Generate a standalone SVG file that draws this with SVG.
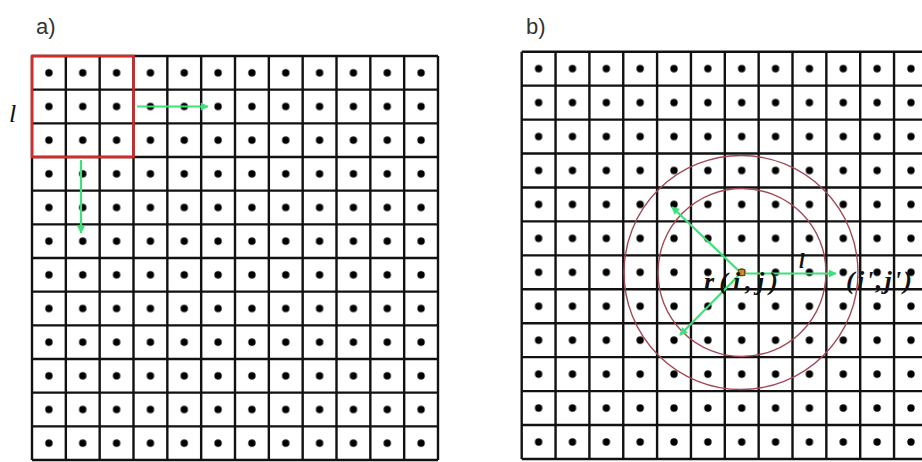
<svg xmlns="http://www.w3.org/2000/svg" width="922" height="462" viewBox="0 0 922 462">
<style>
.grid{fill:none;stroke:#111;stroke-width:2.4}
.lbl{font-family:"Liberation Sans",Arial,sans-serif;font-size:22px;fill:#333}
.math{font-family:"Liberation Serif","Times New Roman",serif;font-style:italic;font-weight:bold;fill:#111}
.arrow{fill:none;stroke:#3ee07a;stroke-width:2.2}
.ring{fill:none;stroke:#a04a55;stroke-width:1.4}
</style>
<defs>
<pattern id="dotsA" patternUnits="userSpaceOnUse" x="32" y="56" width="33.833" height="33.667">
<circle cx="16.92" cy="16.83" r="3.7" fill="#000"/>
</pattern>
<pattern id="dotsB" patternUnits="userSpaceOnUse" x="521.7" y="51.7" width="33.85" height="33.94">
<circle cx="16.92" cy="16.97" r="3.7" fill="#000"/>
</pattern>
<marker id="ah" viewBox="0 0 10 10" refX="9" refY="5" markerUnits="userSpaceOnUse" markerWidth="9" markerHeight="8" orient="auto">
<path d="M0,0 L10,5 L0,10 z" fill="#3ee07a"/>
</marker>
</defs>
<rect width="922" height="462" fill="#fff"/>

<g id="panel-a">
<text class="lbl" x="36" y="34">a)</text>
<rect x="32" y="56" width="406" height="404" fill="url(#dotsA)"/>
<path class="grid" d="M32,56V460M65.83,56V460M99.67,56V460M133.5,56V460M167.33,56V460M201.17,56V460M235,56V460M268.83,56V460M302.67,56V460M336.5,56V460M370.33,56V460M404.17,56V460M438,56V460
M32,56H438M32,89.67H438M32,123.33H438M32,157H438M32,190.67H438M32,224.33H438M32,258H438M32,291.67H438M32,325.33H438M32,359H438M32,392.67H438M32,426.33H438M32,460H438"/>
<rect id="window" x="32" y="56" width="101.5" height="101" fill="none" stroke="#d42a2a" stroke-width="2.6"/>
<text class="math" x="9" y="122" font-size="26" style="font-weight:normal">l</text>
</g>

<g id="panel-b">
<text class="lbl" x="526" y="34">b)</text>
<rect x="521.7" y="51.7" width="406.2" height="407.3" fill="url(#dotsB)"/>
<path class="grid" d="M521.7,51.7V459M555.55,51.7V459M589.4,51.7V459M623.25,51.7V459M657.1,51.7V459M690.95,51.7V459M724.8,51.7V459M758.65,51.7V459M792.5,51.7V459M826.35,51.7V459M860.2,51.7V459M894.05,51.7V459
M521.7,51.7H922M521.7,85.64H922M521.7,119.58H922M521.7,153.52H922M521.7,187.46H922M521.7,221.4H922M521.7,255.34H922M521.7,289.28H922M521.7,323.22H922M521.7,357.16H922M521.7,391.1H922M521.7,425.04H922M521.7,459H922"/>
<circle class="ring" cx="741" cy="272.5" r="117"/>
<circle class="ring" cx="742" cy="272.5" r="84"/>
</g>

<g id="connectors">
<line class="arrow" x1="137" y1="106.5" x2="208" y2="106.5" marker-end="url(#ah)"/>
<line class="arrow" x1="81" y1="160" x2="81" y2="233" marker-end="url(#ah)"/>
<line class="arrow" x1="741" y1="273" x2="672" y2="207" marker-end="url(#ah)"/>
<line class="arrow" x1="741" y1="273" x2="680" y2="335" marker-end="url(#ah)"/>
<line class="arrow" x1="744" y1="273.5" x2="836" y2="273.5" marker-end="url(#ah)"/>
</g>

<g id="labels-b">
<rect x="738.7" y="269.5" width="6" height="6" fill="#d08a20" stroke="#6a4010" stroke-width="1"/>
<text class="math" x="704" y="290" font-size="26" textLength="74" lengthAdjust="spacing">r(i,j)</text>
<text class="math" x="799" y="268" font-size="20">l</text>
<text class="math" x="846" y="289" font-size="26" textLength="66" lengthAdjust="spacing">(i',j')</text>
</g>
</svg>
